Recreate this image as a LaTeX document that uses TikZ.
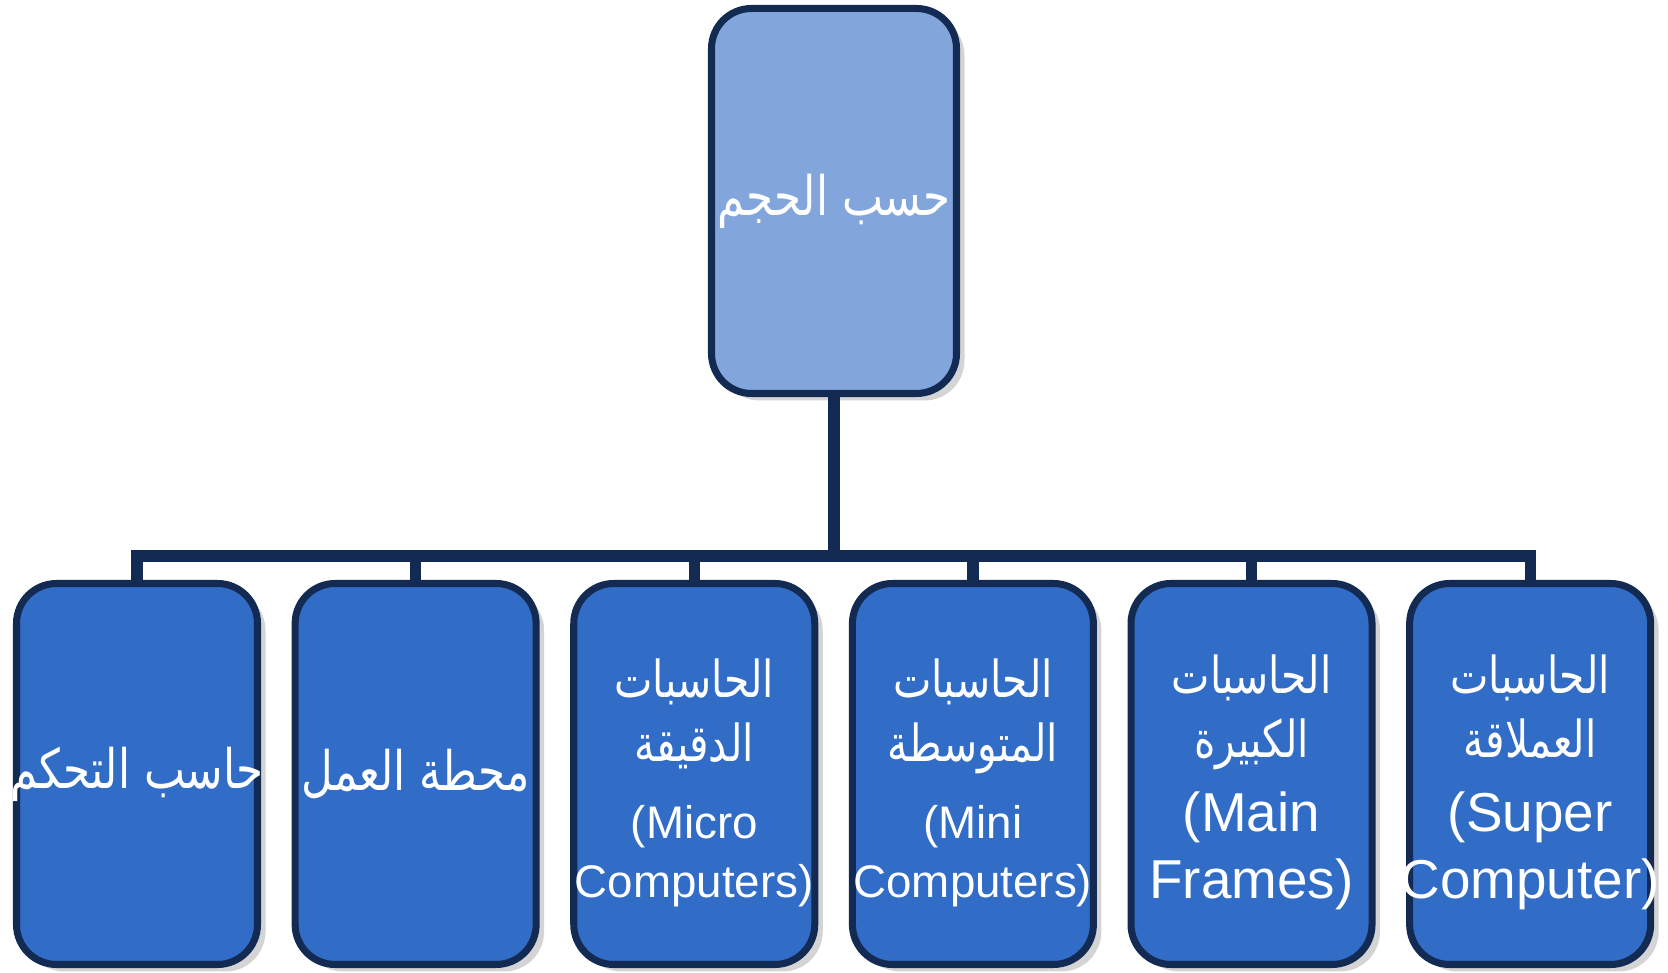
\documentclass[tikz,border=0pt]{standalone}
\usepackage{fontspec}
\setmainfont{Liberation Sans}
\newfontfamily\arabicfont[Script=Arabic, FakeStretch=0.8]{DejaVu Sans}
\TeXXeTstate=1
\usetikzlibrary{positioning, shadows}
\definecolor{navy}{RGB}{19,42,82}
\definecolor{topblue}{RGB}{130,165,220}
\definecolor{boxblue}{RGB}{49,108,198}
\newcommand{\artxt}[1]{{\fontsize{14.5}{17}\arabicfont\beginR #1\endR}}
\newcommand{\arbig}[1]{{\fontsize{15.5}{18}\arabicfont\beginR #1\endR}}

\begin{document}
\begin{tikzpicture}[
        font=\fontsize{13}{16.6}\selectfont,
        topbox/.style={draw=navy, line width=2pt, rounded corners=0.4cm, fill=topblue, text=white, minimum width=2.45cm, minimum height=3.85cm, inner xsep=-0.3cm, align=center, drop shadow={shadow xshift=0.08cm, shadow yshift=-0.07cm, fill=black!17, opacity=1}},
        sizebox/.style={topbox, fill=boxblue, minimum width=2.41cm, minimum height=3.81cm},
        bigtxt/.style={font=\fontsize{15.6}{19.1}\selectfont},
        bus/.style={draw=navy, line width=3.2pt, line join=miter}
    ]
        \useasboundingbox (0,0) rectangle (16.68,9.73);
        \node[topbox] (size) at (8.34,7.72) {\arbig{حسب الحجم}};
        \node[sizebox] (ctrl) at (1.37,1.99) {\arbig{حاسب التحكم}};
        \node[sizebox, right=0.306cm of ctrl] (work) {\arbig{محطة العمل}};
        \node[sizebox, right=0.306cm of work] (micro) {\rule{0pt}{16pt}\artxt{الحاسبات}\\[1.5pt]\artxt{الدقيقة}\\[5.5pt](Micro\\Computers)};
        \node[sizebox, right=0.306cm of micro] (mini) {\rule{0pt}{16pt}\artxt{الحاسبات}\\[1.5pt]\artxt{المتوسطة}\\[5.5pt](Mini\\Computers)};
        \node[sizebox, bigtxt, right=0.306cm of mini] (main) {\rule{0pt}{16pt}\artxt{الحاسبات}\\[-1pt]\artxt{الكبيرة}\\[2pt](Main\\Frames)};
        \node[sizebox, bigtxt, right=0.306cm of main] (super) {\rule{0pt}{16pt}\artxt{الحاسبات}\\[-1pt]\artxt{العملاقة}\\[2pt](Super\\Computer)};
        \coordinate (bus) at (8.34,4.17);

        \draw[bus] (size.south) -- (size.south |- bus);
        \draw[bus] (ctrl.north) |- (bus -| super.north) -- (super.north);
        \foreach \n in {work, micro, mini, main}
            \draw[bus] (\n.north) -- (\n.north |- bus);
    \end{tikzpicture}
\end{document}
